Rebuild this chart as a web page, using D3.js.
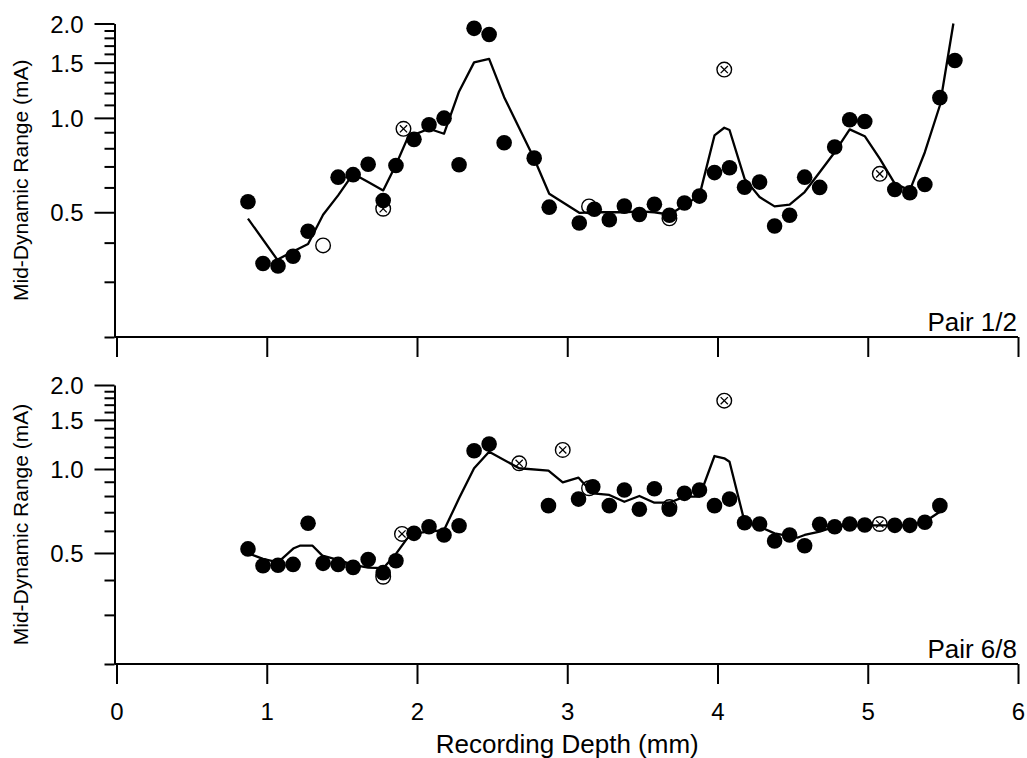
<!DOCTYPE html>
<html>
<head>
<meta charset="utf-8">
<script src="https://cdn.jsdelivr.net/npm/d3@7"></script>
<style>
  html, body { margin: 0; padding: 0; background: #fff; }
  svg { display: block; font-family: "Liberation Sans", Arial, Helvetica, sans-serif; }
</style>
</head>
<body>
<svg id="chart" width="1027" height="758"></svg>
<script>
// ---- Pair 1/2 ----
const pair12Depth = [0.875, 0.975, 1.075, 1.175, 1.275, 1.475, 1.575, 1.675, 1.775, 1.86, 1.98, 2.08, 2.18, 2.28, 2.38, 2.48, 2.58, 2.78, 2.88, 3.08, 3.18, 3.28, 3.38, 3.48, 3.58, 3.68, 3.78, 3.88, 3.98, 4.08, 4.18, 4.28, 4.38, 4.48, 4.58, 4.68, 4.78, 4.88, 4.98, 5.18, 5.28, 5.38, 5.48, 5.58];
const pair12Mdr   = [0.54, 0.343, 0.337, 0.362, 0.435, 0.647, 0.659, 0.711, 0.545, 0.705, 0.854, 0.951, 0.998, 0.709, 1.93, 1.845, 0.833, 0.744, 0.519, 0.462, 0.511, 0.473, 0.523, 0.492, 0.530, 0.489, 0.535, 0.563, 0.669, 0.693, 0.601, 0.624, 0.452, 0.489, 0.647, 0.600, 0.807, 0.986, 0.974, 0.591, 0.577, 0.613, 1.16, 1.524];
const pair12OpenDepth  = [1.375, 3.145, 3.68];
const pair12OpenMdr    = [0.392, 0.522, 0.478];
const pair12CrossDepth = [1.775, 1.91, 4.045, 5.08];
const pair12CrossMdr   = [0.513, 0.923, 1.426, 0.663];
const pair12SmoothDepth = [0.875, 1.07, 1.175, 1.275, 1.375, 1.475, 1.575, 1.675, 1.775, 1.86, 1.94, 2.08, 2.18, 2.28, 2.38, 2.48, 2.58, 2.78, 2.88, 3.08, 3.18, 3.28, 3.38, 3.48, 3.58, 3.68, 3.78, 3.88, 3.98, 4.045, 4.08, 4.18, 4.28, 4.38, 4.48, 4.58, 4.68, 4.78, 4.88, 4.98, 5.08, 5.18, 5.28, 5.38, 5.48, 5.57];
const pair12SmoothMdr   = [0.477, 0.353, 0.375, 0.396, 0.491, 0.566, 0.663, 0.624, 0.587, 0.709, 0.868, 0.923, 0.890, 1.214, 1.503, 1.543, 1.164, 0.741, 0.573, 0.498, 0.500, 0.500, 0.500, 0.503, 0.500, 0.491, 0.526, 0.566, 0.879, 0.930, 0.915, 0.640, 0.559, 0.522, 0.529, 0.580, 0.671, 0.777, 0.919, 0.874, 0.741, 0.617, 0.587, 0.777, 1.095, 2.0];

// ---- Pair 6/8 ----
const pair68Depth = [0.875, 0.975, 1.075, 1.175, 1.275, 1.375, 1.475, 1.575, 1.675, 1.775, 1.86, 1.98, 2.08, 2.18, 2.28, 2.38, 2.48, 2.875, 3.075, 3.17, 3.28, 3.38, 3.48, 3.58, 3.68, 3.78, 3.88, 3.98, 4.08, 4.18, 4.28, 4.38, 4.48, 4.58, 4.68, 4.78, 4.88, 4.98, 5.18, 5.28, 5.38, 5.48];
const pair68Mdr   = [0.517, 0.450, 0.452, 0.455, 0.639, 0.459, 0.455, 0.444, 0.474, 0.425, 0.469, 0.588, 0.621, 0.580, 0.626, 1.163, 1.229, 0.739, 0.780, 0.864, 0.739, 0.841, 0.717, 0.850, 0.717, 0.818, 0.841, 0.739, 0.780, 0.642, 0.635, 0.552, 0.580, 0.531, 0.634, 0.621, 0.635, 0.630, 0.628, 0.628, 0.644, 0.739];
const pair68OpenDepth  = [1.775, 3.145, 3.68];
const pair68OpenMdr    = [0.411, 0.853, 0.73];
const pair68CrossDepth = [1.90, 2.68, 2.97, 4.045, 5.08];
const pair68CrossMdr   = [0.585, 1.048, 1.17, 1.757, 0.635];
const pair68SmoothDepth = [0.875, 0.975, 1.075, 1.18, 1.22, 1.305, 1.37, 1.475, 1.575, 1.675, 1.775, 1.86, 1.935, 1.98, 2.08, 2.18, 2.28, 2.38, 2.48, 2.68, 2.875, 2.97, 3.075, 3.17, 3.28, 3.38, 3.48, 3.58, 3.68, 3.78, 3.88, 3.98, 4.045, 4.08, 4.18, 4.28, 4.38, 4.48, 4.535, 4.58, 4.68, 4.78, 4.88, 4.98, 5.08, 5.18, 5.28, 5.38, 5.48];
const pair68SmoothMdr   = [0.499, 0.476, 0.463, 0.520, 0.531, 0.531, 0.489, 0.472, 0.453, 0.443, 0.441, 0.496, 0.564, 0.588, 0.596, 0.604, 0.785, 1.006, 1.153, 1.006, 0.986, 0.896, 0.931, 0.818, 0.807, 0.763, 0.800, 0.757, 0.757, 0.796, 0.796, 1.113, 1.092, 1.062, 0.647, 0.621, 0.588, 0.575, 0.568, 0.580, 0.596, 0.621, 0.628, 0.628, 0.628, 0.628, 0.628, 0.647, 0.703];

// ---- axes ----
const xTickValues = [0, 1, 2, 3, 4, 5, 6];
const yMajorTicks = [0.5, 1.0, 1.5, 2.0];
const yMajorLabels = ["0.5", "1.0", "1.5", "2.0"];
const yMinorTicks = [0.2, 0.3, 0.4, 0.6, 0.7, 0.8, 0.9, 1.1, 1.2, 1.3, 1.4, 1.6, 1.7, 1.8, 1.9];
const yDomain = [0.2, 2.0];
const xDomain = [0, 6];
const yTitle = "Mid-Dynamic Range (mA)";
const xTitle = "Recording Depth (mm)";

const panels = [
  { name: "Pair 1/2", top: 23.5, bottom: 337, depth: pair12Depth, mdr: pair12Mdr,
    openD: pair12OpenDepth, openV: pair12OpenMdr, crossD: pair12CrossDepth, crossV: pair12CrossMdr,
    lineD: pair12SmoothDepth, lineV: pair12SmoothMdr, xLabels: false },
  { name: "Pair 6/8", top: 385, bottom: 664, depth: pair68Depth, mdr: pair68Mdr,
    openD: pair68OpenDepth, openV: pair68OpenMdr, crossD: pair68CrossDepth, crossV: pair68CrossMdr,
    lineD: pair68SmoothDepth, lineV: pair68SmoothMdr, xLabels: true }
];

const svg = d3.select("#chart");
const yAxisX = 114.5;
const x = d3.scaleLinear().domain(xDomain).range([116.5, 1018]);

const zip = (a, b) => a.map((d, i) => [d, b[i]]);

panels.forEach(p => {
  const y = d3.scaleLog().domain(yDomain).range([p.bottom, p.top]);
  const g = svg.append("g");

  // minor y ticks
  const yMinor = g.append("g").attr("transform", `translate(${yAxisX},0)`)
    .call(d3.axisLeft(y).tickValues(yMinorTicks).tickSize(10).tickSizeOuter(0).tickFormat(""));
  yMinor.select(".domain").remove();

  // major y ticks with labels
  const yMajor = g.append("g").attr("transform", `translate(${yAxisX},0)`)
    .call(d3.axisLeft(y).tickValues(yMajorTicks).tickSize(20).tickSizeOuter(0)
      .tickPadding(11).tickFormat((d, i) => yMajorLabels[i]));

  // x axis
  const xAxis = g.append("g").attr("transform", `translate(0,${p.bottom})`)
    .call(d3.axisBottom(x).tickValues(xTickValues).tickSize(20).tickSizeOuter(0)
      .tickPadding(19).tickFormat(p.xLabels ? d3.format("d") : ""));
  xAxis.select(".domain").attr("d", `M${yAxisX},0H${x(6)}`);

  [yMinor, yMajor, xAxis].forEach(a => {
    a.selectAll("path, line").attr("stroke", "#000").attr("stroke-width", 2);
    a.selectAll("text").attr("fill", "#000").style("font-size", "24px")
      .style("font-family", '"Liberation Sans", Arial, sans-serif');
  });
  yMajor.selectAll("text").attr("dy", "0.36em");

  // y title
  g.append("text")
    .attr("transform", `translate(28,${(p.top + p.bottom) / 2}) rotate(-90)`)
    .attr("text-anchor", "middle")
    .style("font-size", "21px")
    .text(yTitle);

  // pair label
  g.append("text")
    .attr("x", 1017).attr("y", p.bottom - 6.5)
    .attr("text-anchor", "end")
    .style("font-size", "26px")
    .text(p.name);

  // smoothed trace
  const line = d3.line().x(d => x(d[0])).y(d => y(d[1]));
  g.append("path")
    .datum(zip(p.lineD, p.lineV))
    .attr("d", line)
    .attr("fill", "none")
    .attr("stroke", "#000")
    .attr("stroke-width", 2.3)
    .attr("stroke-linejoin", "round");

  // open circles
  g.append("g").selectAll("circle")
    .data(zip(p.openD, p.openV))
    .join("circle")
    .attr("cx", d => x(d[0])).attr("cy", d => y(d[1]))
    .attr("r", 7.3)
    .attr("fill", "none").attr("stroke", "#000").attr("stroke-width", 1.4);

  // circled crosses
  const cross = g.append("g").selectAll("g")
    .data(zip(p.crossD, p.crossV))
    .join("g")
    .attr("transform", d => `translate(${x(d[0])},${y(d[1])})`);
  cross.append("circle").attr("r", 7.3)
    .attr("fill", "none").attr("stroke", "#000").attr("stroke-width", 1.4);
  cross.append("path").attr("d", "M-3.6,-3.6L3.6,3.6M-3.6,3.6L3.6,-3.6")
    .attr("stroke", "#000").attr("stroke-width", 1.3);

  // filled circles
  g.append("g").selectAll("circle")
    .data(zip(p.depth, p.mdr))
    .join("circle")
    .attr("cx", d => x(d[0])).attr("cy", d => y(d[1]))
    .attr("r", 7.8)
    .attr("fill", "#000");
});

// x title
svg.append("text")
  .attr("x", x(3)).attr("y", 753)
  .attr("text-anchor", "middle")
  .style("font-size", "26px")
  .text(xTitle);
</script>
</body>
</html>
